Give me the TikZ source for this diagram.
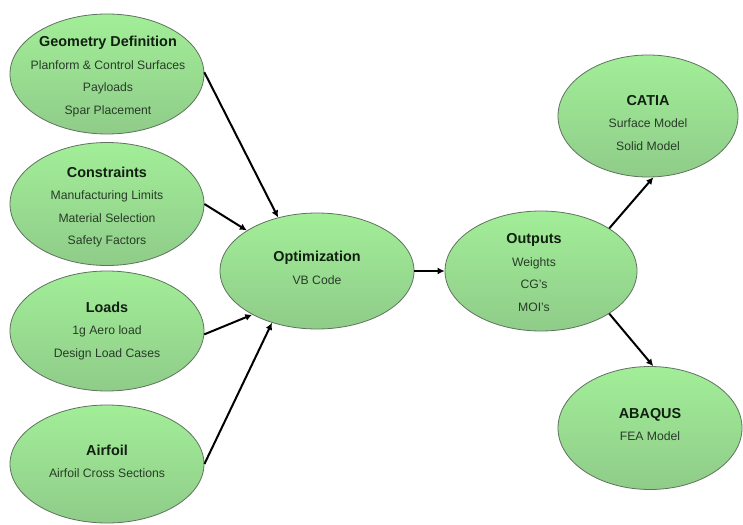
\documentclass[tikz,border=0pt]{standalone}
\usepackage{fontspec}
\setmainfont{Liberation Sans}
\usetikzlibrary{arrows.meta,shapes.geometric}
\definecolor{gtop}{RGB}{162,238,152}
\definecolor{gbot}{RGB}{143,204,137}
\definecolor{gline}{RGB}{95,115,95}
\definecolor{ttl}{RGB}{18,32,18}
\definecolor{sub}{RGB}{40,60,40}
\newcommand{\ttlf}[1]{{\fontsize{14.4}{22.5}\selectfont\bfseries\color{ttl}#1}}
\tikzset{
  bubble/.style={ellipse, draw=gline, line width=0.8pt, top color=gtop, bottom color=gbot,
    inner sep=0pt},
  txt/.style={inner sep=0pt, align=center, text=sub,
    font=\fontsize{12.2}{22.5}\selectfont},
  conn/.style={draw=black, line width=2pt, -{Latex[length=7pt,width=7pt]}}
}
\begin{document}
\begin{tikzpicture}[x=1pt,y=-1pt]
\fill[white] (0,0) rectangle (743,524);
\useasboundingbox (0,0) rectangle (743,524);

\node[bubble, minimum width=194pt, minimum height=120pt] (geo) at (107,74) {};
\node[bubble, minimum width=194pt, minimum height=123pt] (con) at (107,204) {};
\node[bubble, minimum width=194pt, minimum height=120pt] (loads) at (107,331) {};
\node[bubble, minimum width=194pt, minimum height=118pt] (air) at (107,464) {};
\node[bubble, minimum width=194pt, minimum height=116pt] (opt) at (317,271) {};
\node[bubble, minimum width=192pt, minimum height=120pt] (out) at (541,271) {};
\node[bubble, minimum width=180pt, minimum height=122pt] (catia) at (648,116) {};
\node[bubble, minimum width=184pt, minimum height=123pt] (abaqus) at (650,428) {};

\node[txt] (geot) at (108,76.5)
  {\ttlf{Geometry Definition}\\Planform \& Control Surfaces\\Payloads\\Spar Placement};
\node[txt] (cont) at (107,207)
  {\ttlf{Constraints}\\Manufacturing Limits\\Material Selection\\Safety Factors};
\node[txt] (loadst) at (107,331)
  {\ttlf{Loads}\\1g Aero load\\Design Load Cases};
\node[txt] (airt) at (107,461.5)
  {\ttlf{Airfoil}\\Airfoil Cross Sections};
\node[txt] (optt) at (317,268)
  {\ttlf{Optimization}\\VB Code};
\node[txt] (outt) at (534,272.5)
  {\ttlf{Outputs}\\Weights\\CG's\\MOI's};
\node[txt] (catiat) at (648,123)
  {\ttlf{CATIA}\\Surface Model\\Solid Model};
\node[txt] (abaqust) at (650,424.5)
  {\ttlf{ABAQUS}\\FEA Model};

\draw[conn] (geo.1) -- (opt.126);
\draw[conn] (con.0) -- (opt.150);
\draw[conn] (loads.-2) -- (opt.214);
\draw[conn] (air.0) -- (opt.229);
\draw[conn] (opt.east) -- (out.west);
\draw[conn] (out.32) -- (catia.275);
\draw[conn] (out.-32) -- (abaqus.87);
\end{tikzpicture}
\end{document}
